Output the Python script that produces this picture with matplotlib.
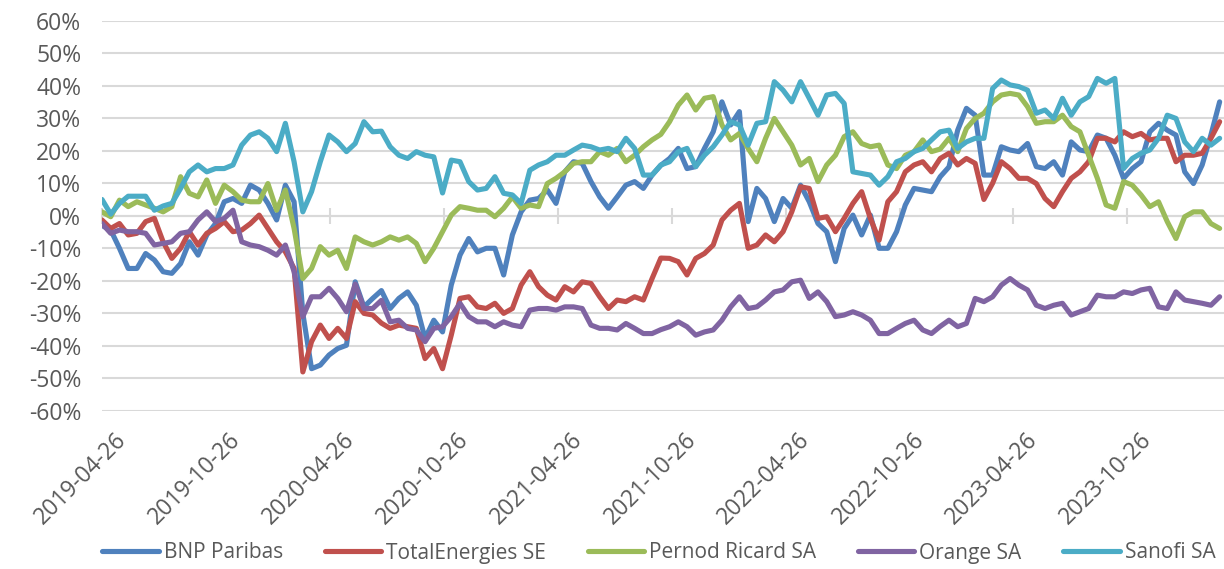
import numpy as np
import pandas as pd
import matplotlib
matplotlib.use("Agg")
import matplotlib.pyplot as plt
import matplotlib.dates as mdates
from matplotlib.ticker import FuncFormatter
from matplotlib.transforms import ScaledTranslation

plt.rcParams['font.family'] = ['Open Sans', 'DejaVu Sans']

# ---- data (cumulative performance, %, biweekly from 2019-04-26) ----
start_date = "2019-04-26"
n_points = 129
series_names = ["BNP Paribas", "TotalEnergies SE", "Pernod Ricard SA", "Orange SA", "Sanofi SA"]

bnp = [-3, -4.4, -10, -16.2, -16.2, -11.6, -13.6, -17.2, -17.7, -14.7, -8, -12.1, -5.9, -2.4, 4.3, 5.3,
       3.8, 9.4, 7.9, 3.8, -1.3, 9.4, 4.3, -30, -47, -45.9, -42.8, -40.8, -39.8, -20.3, -28, -25.4,
       -23, -28.5, -25.4, -23.4, -27.5, -37.7, -32.1, -35.7, -21.3, -12.1, -7, -11.1, -10, -10, -18.2, -5.9,
       1.2, 4.8, 5.3, 7.9, 3.8, 13.5, 16.6, 16.1, 10.5, 5.8, 2.3, 5.8, 9.4, 10.5, 8.4, 12.5,
       15.5, 17.6, 20.7, 14.5, 15.1, 20.7, 25.8, 35, 27.9, 32, -1.8, 8.4, 5.3, -1.8, 5.3, 2.3,
       9.4, 4.3, -2.4, -4.9, -14.1, -3.9, 0.2, -5.9, 0.2, -10, -10, -4.9, 3.3, 8.4, 7.9, 7.4,
       12, 15, 26.3, 33, 30.9, 12.5, 12.5, 21.2, 20.2, 19.7, 22.2, 15.1, 14.5, 16.6, 12.5, 22.7,
       20.2, 19.7, 24.8, 23.8, 18.6, 11.5, 14.5, 16.6, 25.8, 28.4, 26.3, 24.8, 13.5, 9.9, 15.6, 24.8,
       35]

total = [-1.3, -3.9, -2.4, -5.9, -5.4, -1.8, -0.8, -8, -13.1, -10, -4.9, -9, -5.4, -3.9, -1.8, -4.9,
         -4.4, -2.4, 0.2, -3.9, -8, -11.1, -16.2, -48, -38.7, -33.6, -37.7, -34.6, -37.7, -26.4, -30, -30.5,
         -33, -34.6, -33.6, -34.1, -34.6, -43.9, -40.8, -47, -36.7, -25.4, -24.9, -28, -28.5, -26.9, -30, -28.5,
         -21.3, -17.2, -21.8, -24.4, -25.9, -21.8, -23.4, -20.3, -20.8, -24.9, -28.5, -25.9, -26.4, -24.9, -25.9, -19.3,
         -13, -13.1, -14.1, -18.2, -13.1, -11.6, -9, -1.3, 1.7, 3.8, -10, -9, -5.9, -8, -4.9, 1.2,
         8.9, 8.4, -0.8, -0.3, -4.9, -0.8, 3.8, 7.4, -0.8, -7.5, 4.3, 7.4, 13.5, 15.6, 16.6, 13.5,
         17.6, 19.2, 15.6, 17.6, 16.1, 5, 10, 16.6, 14.5, 11.5, 11.5, 9.9, 5.3, 2.8, 7.4, 11.5,
         13.5, 16.6, 23.8, 23.8, 22.7, 25.8, 24.3, 25.3, 23.3, 23.8, 23.8, 16.6, 18.6, 18.6, 19.2, 23.8,
         28.9]

pernod = [1.2, -0.3, 4.8, 2.8, 4.3, 3.3, 2.3, 1.2, 2.8, 12, 6.9, 5.8, 11, 3.8, 9.4, 7.4,
          4.8, 4.3, 4.3, 9.9, 1.7, 7.9, -3.9, -19.3, -16.2, -9.5, -12.1, -10.6, -16.2, -6.5, -8, -9,
          -8, -6.5, -7.5, -6.5, -8.5, -14.1, -10, -4.9, 0.2, 2.8, 2.3, 1.7, 1.7, -0.3, 2.3, 5.8,
          2.3, 3.3, 2.8, 9.9, 11.5, 13.5, 16.1, 16.6, 16.6, 19.7, 18.6, 20.7, 16.6, 18.6, 21.2, 23.3,
          25, 28.9, 34, 37.1, 32.5, 36.1, 36.6, 27.9, 23.3, 25.3, 20.7, 16.6, 23.8, 29.9, 25.8, 21.7,
          15.6, 17.6, 10.5, 15.6, 18.6, 24.3, 25.8, 22.2, 21.2, 21.7, 15.6, 14.5, 18.6, 19.7, 23.3, 19.7,
          20.5, 23.8, 19.7, 26.8, 29.9, 31.5, 35, 37.1, 37.6, 37.1, 33.5, 28.4, 28.9, 28.9, 30.9, 27.4,
          25.8, 18.6, 11.5, 3.3, 2.3, 10.5, 9.4, 6.4, 2.8, 4.3, -1.8, -7, -0.3, 1.2, 1.2, -2.4,
          -3.9]

orange = [-2.4, -5.4, -4.4, -4.9, -4.9, -5.4, -9, -8.5, -8, -5.4, -4.9, -1.3, 1.2, -1.8, -0.8, 1.7,
          -8, -9, -9.5, -10.6, -12.1, -9, -17.2, -31, -24.9, -24.9, -22.3, -25.4, -29.5, -21, -28.5, -28.5,
          -26, -32.6, -32.1, -34.6, -35.1, -38.7, -34.6, -34.1, -31, -26.9, -31, -32.6, -32.6, -34.1, -32.6, -33.6,
          -34.1, -29, -28.5, -28.5, -29, -28, -28, -28.5, -33.6, -34.6, -34.6, -35.1, -33.1, -34.6, -36.2, -36.2,
          -35, -34.1, -32.6, -34.1, -36.7, -35.7, -35.1, -32.1, -28, -24.9, -28.5, -28, -25.9, -23.4, -22.8, -20.3,
          -19.8, -25.4, -23.4, -26.4, -31, -30.5, -29.5, -30.5, -32.1, -36.2, -36.2, -34.6, -33.1, -32.1, -35.1, -36.2,
          -34, -32.1, -34.1, -33.1, -25.4, -26.4, -24.9, -21.3, -19.3, -21.3, -22.8, -27.5, -28.5, -27.5, -26.9, -30.5,
          -29.5, -28.5, -24.4, -24.9, -24.9, -23.4, -23.9, -22.8, -22.3, -28, -28.5, -23.4, -25.9, -26.4, -26.9, -27.5,
          -24.9]

sanofi = [5, 0.5, 3.8, 6, 6, 6, 1.7, 3, 3.8, 8.4, 13.5, 15.6, 13.5, 14.5, 14.5, 15.6,
          21.7, 24.8, 25.8, 23.8, 19.7, 28.4, 16.6, 1.2, 7.4, 16.6, 24.8, 22.7, 19.7, 22.2, 28.9, 25.8,
          26, 21.2, 18.6, 17.6, 19.7, 18.6, 18.1, 7, 17.1, 16.6, 10.5, 7.9, 8.4, 12, 6.9, 6.4,
          3.8, 14, 15.6, 16.6, 18.6, 18.6, 20.2, 21.7, 21.2, 20.2, 20.7, 19.7, 23.8, 20.7, 12.5, 12.5,
          15.6, 16.6, 19.7, 20.7, 15.1, 18.6, 21.2, 24.8, 28.9, 27.9, 21.7, 28.4, 28.9, 41.2, 38.6, 35,
          41.2, 36.1, 30.9, 37.1, 37.6, 34.5, 13.5, 13, 12.5, 9.4, 12, 16.6, 17.6, 19.7, 20.7, 23.3,
          25.8, 26.3, 20.7, 22.7, 23.8, 23.8, 39.1, 41.7, 40.2, 39.7, 38.6, 31.5, 32.5, 29.9, 36.1, 30.9,
          35, 36.6, 42.2, 40.7, 42.2, 14.5, 17.6, 19.2, 20.2, 23.8, 30.9, 29.9, 22.7, 19.7, 23.8, 21.7,
          23.8]

tick_dates = ["2019-04-26", "2019-10-26", "2020-04-26", "2020-10-26", "2021-04-26",
              "2021-10-26", "2022-04-26", "2022-10-26", "2023-04-26", "2023-10-26"]
y_ticks = [-60, -50, -40, -30, -20, -10, 0, 10, 20, 30, 40, 50, 60]

colors = ["#4F81BD", "#C0504D", "#9BBB59", "#8064A2", "#4BACC6"]
text_color = "#595959"
grid_color = "#D9D9D9"

# ---- figure ----
dates = pd.date_range(start_date, periods=n_points, freq="14D")
xnum = mdates.date2num(dates.to_pydatetime())
x_start = mdates.date2num(pd.Timestamp(start_date).to_pydatetime())
x_end = x_start + 1799

fig = plt.figure(figsize=(12.24, 5.69), dpi=100)
ax = fig.add_axes([102 / 1224, 1 - 411 / 569, 1122 / 1224, 390.5 / 569])

handles = []
for name, vals, c in zip(series_names, [bnp, total, pernod, orange, sanofi], colors):
    h, = ax.plot(xnum, np.array(vals) / 100.0, color=c, lw=3.7, label=name,
                 solid_joinstyle="round", solid_capstyle="round")
    handles.append(h)

ax.set_xlim(x_start, x_end)
ax.set_ylim(-0.6, 0.6)
ax.set_yticks(np.array(y_ticks) / 100.0)
ax.yaxis.set_major_formatter(FuncFormatter(lambda v, p: f"{round(v * 100):d}%"))
ax.yaxis.grid(True, color=grid_color, lw=1.5)
ax.set_axisbelow(True)
for s in ["top", "right", "left"]:
    ax.spines[s].set_visible(False)
ax.spines["bottom"].set_position(("data", 0))
ax.spines["bottom"].set_color(grid_color)
ax.spines["bottom"].set_linewidth(1.5)
ax.spines["bottom"].set_zorder(0.5)

tick_nums = [mdates.date2num(pd.Timestamp(d).to_pydatetime()) for d in tick_dates]
ax.set_xticks(tick_nums)
ax.tick_params(axis="x", direction="inout", length=11, width=1.5, color=grid_color,
               labelbottom=False)
ax.tick_params(axis="y", length=0, pad=15, labelsize=16.5, labelcolor=text_color)

sec = ax.secondary_xaxis(0.0)
sec.set_xticks(tick_nums)
sec.set_xticklabels(tick_dates, rotation=45, ha="right", va="top",
                    rotation_mode="anchor", color=text_color, fontsize=16.5)
sec.tick_params(axis="x", length=0, pad=12)
sec.spines["bottom"].set_visible(False)
shift = ScaledTranslation(9 / 72, 0, fig.dpi_scale_trans)
for lbl in sec.get_xticklabels():
    lbl.set_transform(lbl.get_transform() + shift)

fig.legend(handles, series_names, loc="center", bbox_to_anchor=(659 / 1224, 1 - 553 / 569),
           ncol=5, frameon=False, handlelength=2.7, handletextpad=0.25, columnspacing=2.0,
           fontsize=15, labelcolor=text_color)

fig.savefig("out.png", dpi=100)
